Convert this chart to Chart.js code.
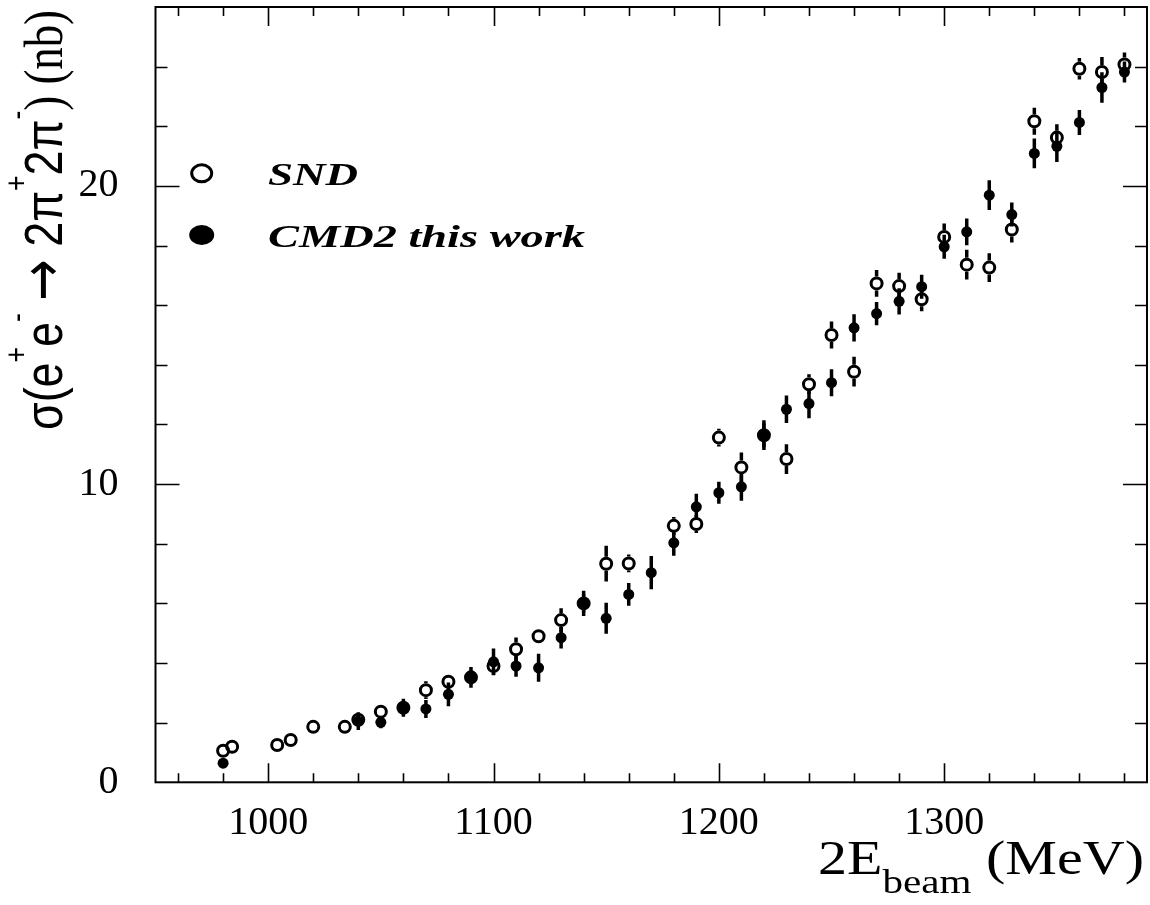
<!doctype html>
<html lang="en">
  <head>
    <meta charset="utf-8">
    <title>sigma(e+e- -> 2pi+2pi-)</title>
    <style>
      html, body { margin: 0; padding: 0; background: #fff; }
      .chartBox { width: 1150px; height: 905px; }
    </style>
  </head>
  <body>
    <div class="chartBox">
      <canvas id="myChart"></canvas>
    </div>
    <script src="https://cdn.jsdelivr.net/npm/chart.js/dist/chart.umd.min.js"></script>
    <script>
    // axis ticks
    const xMajor = [1000, 1100, 1200, 1300];
    const yMajor = [0, 10, 20];
    const xMinorStep = 20;
    const yMinorStep = 2;

    // SND (open circles)
    const sndE = [980, 984, 1004, 1010, 1020, 1034, 1040, 1050, 1060, 1070, 1080, 1090, 1100, 1110, 1120, 1130, 1140, 1150, 1160, 1180,
                  1190, 1200, 1210, 1220, 1230, 1240, 1250, 1260, 1270, 1280, 1290, 1300, 1310, 1320, 1330, 1340, 1350, 1360, 1370, 1380];
    const sndSigma = [1.06, 1.19, 1.25, 1.42, 1.86, 1.86, 2.10, 2.37, 2.50, 3.09, 3.37, 3.52, 3.90, 4.46, 4.90, 5.44, 6.00, 7.33, 7.34, 8.60,
                      8.66, 11.56, 10.56, 11.64, 10.84, 13.35, 15.00, 13.77, 16.73, 16.64, 16.20, 18.29, 17.36, 17.26, 18.54, 22.17, 21.62, 23.93, 23.82, 24.07];
    const sndErr = [0.1, 0.1, 0.1, 0.1, 0.1, 0.1, 0.15, 0.15, 0.2, 0.3, 0.2, 0.25, 0.3, 0.4, 0.2, 0.4, 0.3, 0.6, 0.3, 0.3,
                    0.3, 0.3, 0.5, 0.4, 0.5, 0.33, 0.45, 0.5, 0.45, 0.45, 0.4, 0.45, 0.5, 0.48, 0.44, 0.45, 0.45, 0.36, 0.5, 0.4];

    // CMD2 this work (filled circles)
    const cmdE = [980, 1040, 1050, 1060, 1070, 1080, 1090, 1100, 1110, 1120, 1130, 1140, 1150, 1160, 1170, 1180, 1190, 1200,
                  1210, 1220, 1230, 1240, 1250, 1260, 1270, 1280, 1290, 1300, 1310, 1320, 1330, 1340, 1350, 1360, 1370, 1380];
    const cmdSigma = [0.64, 2.05, 2.01, 2.50, 2.46, 2.95, 3.52, 4.04, 3.90, 3.84, 4.85, 6.00, 5.50, 6.30, 7.03, 8.03, 9.24, 9.71,
                      9.91, 11.64, 12.51, 12.70, 13.40, 15.24, 15.72, 16.13, 16.62, 17.96, 18.46, 19.69, 19.04, 21.09, 21.33, 22.13, 23.30, 23.82];
    const cmdErr = [0.12, 0.3, 0.2, 0.3, 0.3, 0.4, 0.35, 0.45, 0.36, 0.47, 0.36, 0.42, 0.52, 0.38, 0.56, 0.43, 0.44, 0.37,
                    0.47, 0.5, 0.46, 0.49, 0.45, 0.46, 0.39, 0.44, 0.4, 0.4, 0.45, 0.5, 0.4, 0.5, 0.53, 0.42, 0.51, 0.35];

    const SERIF = "'Liberation Serif', 'Times New Roman', serif";
    const SANS = "'Liberation Sans', Arial, sans-serif";
    const ARROW = "'DejaVu Sans', sans-serif";

    // draw a run of text pieces (normal / super / sub), stretched to a given width
    function drawRich(ctx, parts, x, y, width, angle) {
      ctx.save();
      let total = 0;
      parts.forEach(p => { ctx.font = p.font; p.w = ctx.measureText(p.t).width; total += p.w; });
      ctx.translate(x, y);
      ctx.rotate(angle || 0);
      ctx.scale(width / total, 1);
      ctx.fillStyle = '#000';
      ctx.textBaseline = 'alphabetic';
      ctx.textAlign = 'left';
      let cx = 0;
      parts.forEach(p => { ctx.font = p.font; ctx.fillText(p.t, cx, p.dy || 0); cx += p.w; });
      ctx.restore();
    }

    const errorBars = {
      id: 'errorBars',
      beforeDatasetsDraw(chart) {
        const ctx = chart.ctx, xs = chart.scales.x, ys = chart.scales.y;
        const area = chart.chartArea;
        ctx.save();
        ctx.beginPath();
        ctx.rect(area.left, area.top, area.right - area.left, area.bottom - area.top);
        ctx.clip();
        ctx.strokeStyle = '#000';
        ctx.lineWidth = 3.5;
        const bars = [[sndE, sndSigma, sndErr, 7], [cmdE, cmdSigma, cmdErr, 0]];
        bars.forEach(([xv, yv, ev, gap]) => {
          xv.forEach((e, i) => {
            const px = xs.getPixelForValue(e);
            const py = ys.getPixelForValue(yv[i]);
            const hi = ys.getPixelForValue(yv[i] + ev[i]);
            const lo = ys.getPixelForValue(yv[i] - ev[i]);
            ctx.beginPath();
            if (py - hi > gap) { ctx.moveTo(px, hi); ctx.lineTo(px, py - gap); }
            if (lo - py > gap) { ctx.moveTo(px, py + gap); ctx.lineTo(px, lo); }
            ctx.stroke();
          });
        });
        ctx.restore();
      }
    };

    const frame = {
      id: 'frame',
      afterDraw(chart) {
        const ctx = chart.ctx, xs = chart.scales.x, ys = chart.scales.y;
        const { left, right, top, bottom } = chart.chartArea;
        ctx.save();
        ctx.strokeStyle = '#000';
        ctx.lineWidth = 2;
        ctx.strokeRect(left, top, right - left, bottom - top);

        ctx.lineWidth = 1.6;
        ctx.beginPath();
        for (let v = Math.ceil(xs.min / xMinorStep) * xMinorStep; v <= xs.max; v += xMinorStep) {
          const px = Math.round(xs.getPixelForValue(v)) + 0.5;
          const len = xMajor.includes(v) ? 19 : 9;
          ctx.moveTo(px, bottom); ctx.lineTo(px, bottom - len);
          ctx.moveTo(px, top); ctx.lineTo(px, top + len);
        }
        for (let v = ys.min + yMinorStep; v < ys.max; v += yMinorStep) {
          const py = Math.round(ys.getPixelForValue(v)) + 0.5;
          const len = yMajor.includes(v) ? 24 : 12;
          ctx.moveTo(left, py); ctx.lineTo(left + len, py);
          ctx.moveTo(right, py); ctx.lineTo(right - len, py);
        }
        ctx.stroke();

        // axis titles
        const sup = 32;
        drawRich(ctx, [
          { t: '\u03c3(e', font: `54px ${SANS}` },
          { t: '+', font: `${sup}px ${SANS}`, dy: -35 },
          { t: 'e', font: `54px ${SANS}` },
          { t: '-', font: `${sup}px ${SANS}`, dy: -35 },
          { t: ' ', font: `54px ${SANS}` },
          { t: '\u2192', font: `60px ${ARROW}` },
          { t: ' 2\u03c0', font: `54px ${SANS}` },
          { t: '+', font: `${sup}px ${SANS}`, dy: -35 },
          { t: '2\u03c0', font: `54px ${SANS}` },
          { t: '-', font: `${sup}px ${SANS}`, dy: -35 },
          { t: ') (nb)', font: `54px ${SERIF}` }
        ], 62, 430, 420, -Math.PI / 2);

        drawRich(ctx, [
          { t: '2E', font: `48px ${SERIF}` },
          { t: 'beam', font: `34px ${SERIF}`, dy: 19 },
          { t: ' (MeV)', font: `48px ${SERIF}` }
        ], 818, 874, 326, 0);

        // legend
        ctx.lineWidth = 3;
        ctx.beginPath();
        ctx.ellipse(201.7, 173.3, 10, 8.5, 0, 0, Math.PI * 2);
        ctx.stroke();
        ctx.fillStyle = '#000';
        ctx.beginPath();
        ctx.ellipse(201.7, 235, 12.5, 10, 0, 0, Math.PI * 2);
        ctx.fill();
        drawRich(ctx, [{ t: 'SND', font: `italic bold 32px ${SERIF}` }], 268, 185, 90, 0);
        drawRich(ctx, [{ t: 'CMD2 this work', font: `italic bold 32px ${SERIF}` }], 268, 247, 317, 0);
        ctx.restore();
      }
    };

    const data = {
      datasets: [{
        label: 'SND',
        data: sndE.map((e, i) => ({ x: e, y: sndSigma[i] })),
        pointStyle: 'circle',
        pointRadius: 5.5,
        pointBorderWidth: 3,
        pointBorderColor: '#000',
        pointBackgroundColor: 'rgba(0,0,0,0)',
        showLine: false
      }, {
        label: 'CMD2 this work',
        data: cmdE.map((e, i) => ({ x: e, y: cmdSigma[i] })),
        pointStyle: 'circle',
        pointRadius: 5.5,
        pointBorderWidth: 0,
        pointBackgroundColor: '#000',
        showLine: false
      }]
    };

    const tickFont = { family: SERIF, size: 40 };

    const config = {
      type: 'scatter',
      data,
      options: {
        animation: false,
        responsive: true,
        maintainAspectRatio: false,
        layout: { autoPadding: false, padding: { top: 7, right: 3, left: 0, bottom: 0 } },
        plugins: { legend: { display: false }, tooltip: { enabled: false } },
        scales: {
          x: {
            type: 'linear', min: 950, max: 1390,
            afterBuildTicks: s => { s.ticks = xMajor.map(v => ({ value: v })); },
            afterFit: s => { s.height = 122.7; s.paddingLeft = 0; s.paddingRight = 0; s.paddingTop = 0; s.paddingBottom = 0; },
            grid: { display: false }, border: { display: false },
            ticks: { font: tickFont, color: '#000', padding: 9, maxRotation: 0, autoSkip: false, callback: v => String(v) }
          },
          y: {
            min: 0, max: 26,
            afterBuildTicks: s => { s.ticks = yMajor.map(v => ({ value: v })); },
            afterFit: s => { s.width = 155.5; s.paddingLeft = 0; s.paddingRight = 0; s.paddingTop = 0; s.paddingBottom = 0; },
            grid: { display: false }, border: { display: false },
            ticks: { font: tickFont, color: '#000', padding: 29, autoSkip: false, callback: v => String(v) }
          }
        }
      },
      plugins: [errorBars, frame]
    };

    const myChart = new Chart(document.getElementById('myChart'), config);
    </script>
  </body>
</html>
